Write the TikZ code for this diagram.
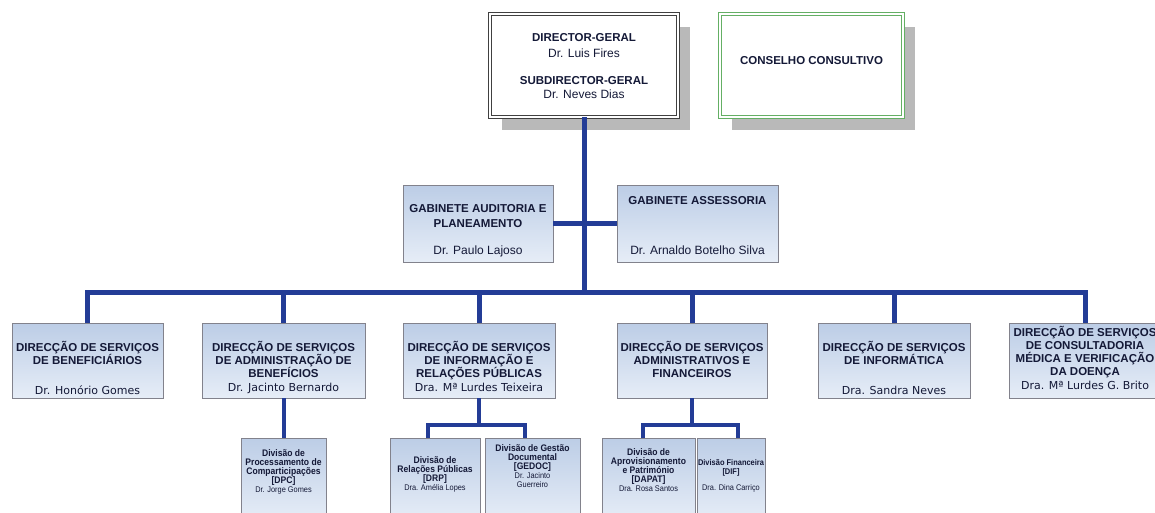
\documentclass[tikz,border=0pt]{standalone}
\usepackage{fontspec}
\setmainfont{Liberation Sans}
\newfontfamily\verdanaish{DejaVu Sans}
\newfontfamily\narrowsans[FakeStretch=0.9]{Liberation Sans}
\usetikzlibrary{shadows}
\definecolor{connblue}{RGB}{35,60,150}
\definecolor{boxtop}{RGB}{188,205,230}
\definecolor{boxbot}{RGB}{230,237,247}
\definecolor{boxline}{RGB}{130,130,140}
\definecolor{txtcol}{RGB}{20,25,55}
\definecolor{shad}{RGB}{185,185,185}
\definecolor{greenline}{RGB}{100,175,100}
\newcommand\TitleF{\fontsize{11.5}{13}\selectfont\bfseries}
\newcommand\NameF{\fontsize{12}{13}\selectfont\mdseries}
\newcommand\VNameF{\verdanaish\fontsize{11}{13}\selectfont\mdseries}
\newcommand\SmallT{\narrowsans\fontsize{9.5}{9}\selectfont\bfseries}
\newcommand\SmallTdif{\narrowsans\fontsize{8.3}{9}\selectfont\bfseries}
\newcommand\SmallN{\narrowsans\fontsize{8.2}{9}\selectfont\mdseries}
\tikzset{
  conn/.style={draw=connblue, line width=5pt, line join=miter},
  conntwo/.style={draw=connblue, line width=4pt, line join=miter},
  bluebox/.style={rectangle, draw=boxline, line width=0.8pt, top color=boxtop, bottom color=boxbot, inner sep=0pt},
  topbox/.style={rectangle, fill=white, double=white, double distance=2pt, line width=0.9pt, inner sep=0pt,
    drop shadow={shadow xshift=12pt, shadow yshift=-13pt, fill=shad, opacity=1}},
  txt/.style={anchor=base, align=center, inner sep=0pt, text=txtcol, font=\TitleF},
  smalltxt/.style={anchor=base, align=center, inner sep=0pt, text=txtcol, font=\SmallT}
}
\begin{document}
\begin{tikzpicture}[x=1pt,y=-1pt]
\useasboundingbox (0,0) rectangle (1155,512);
\fill[white] (0,0) rectangle (1155,512);
\clip (0,0) rectangle (1155,512);

% top boxes
\node[topbox, draw=black!75, minimum width=188pt, minimum height=103pt] (dg) at (584,65.5) {};
\node[topbox, draw=greenline, minimum width=183pt, minimum height=103pt] (cc) at (811.5,65.5) {};

% gabinete boxes
\node[bluebox, minimum width=150pt, minimum height=77pt] (ga) at (478,223.5) {};
\node[bluebox, minimum width=161pt, minimum height=77pt] (gs) at (697.5,223.5) {};

% level 2 boxes
\node[bluebox, minimum width=151pt, minimum height=75pt] (b1) at (87.5,360.5) {};
\node[bluebox, minimum width=163pt, minimum height=75pt] (b2) at (283.5,360.5) {};
\node[bluebox, minimum width=152pt, minimum height=75pt] (b3) at (479,360.5) {};
\node[bluebox, minimum width=150pt, minimum height=75pt] (b4) at (692,360.5) {};
\node[bluebox, minimum width=152pt, minimum height=75pt] (b5) at (894,360.5) {};
\node[bluebox, minimum width=152pt, minimum height=75pt] (b6) at (1085,360.5) {};

% level 3 boxes
\node[bluebox, minimum width=85pt, minimum height=82pt] (dpc) at (283.5,479) {};
\node[bluebox, minimum width=90pt, minimum height=82pt] (drp) at (435,479) {};
\node[bluebox, minimum width=95pt, minimum height=82pt] (gedoc) at (532.5,479) {};
\node[bluebox, minimum width=93pt, minimum height=82pt] (dapat) at (648.5,479) {};
\node[bluebox, minimum width=68pt, minimum height=82pt] (dif) at (731,479) {};

% connectors
\coordinate (bar) at (585,292);
\draw[conn] (dg.south) -- (dg.south |- bar);
\draw[conn] (ga.east) -- (gs.west);
\draw[conn] (b1.north) |- (bar) -| (b6.north);
\foreach \b in {b2,b3,b4,b5} \draw[conn] (\b.north) -- (\b.north |- bar);

\draw[conntwo] (b2.south) -- (dpc.north);
\coordinate (j3) at (479,425);
\coordinate (j3l) at (428,438);
\coordinate (j3r) at (525,438);
\draw[conntwo] (b3.south) -- (j3);
\draw[conntwo] (j3l) |- (j3) -| (j3r);
\coordinate (j4) at (692,425);
\coordinate (j4l) at (643,438);
\coordinate (j4r) at (738,438);
\draw[conntwo] (b4.south) -- (j4);
\draw[conntwo] (j4l) |- (j4) -| (j4r);

% texts (anchor base = last line baseline)
\node[txt] (dgt) at (584,98.5) {DIRECTOR-GERAL\\[3.5pt]\NameF Dr. Luis Fires\\[13.5pt]SUBDIRECTOR-GERAL\\[1.5pt]\NameF Dr. Neves Dias};
\node[txt] (cct) at (811.5,64) {CONSELHO CONSULTIVO};

\node[txt] (gat) at (478,254.5) {GABINETE AUDITORIA E\\[1.5pt]PLANEAMENTO\\[14.5pt]\NameF Dr. Paulo Lajoso};
\node[txt] (gst) at (697.5,254.5) {GABINETE ASSESSORIA\\[37.5pt]\NameF Dr. Arnaldo Botelho Silva};

\node[txt] (t1) at (87.5,394.5) {DIRECÇÃO DE SERVIÇOS\\DE BENEFICIÁRIOS\\[17.5pt]\VNameF Dr. Honório Gomes};
\node[txt] (t2) at (283.5,391.5) {DIRECÇÃO DE SERVIÇOS\\DE ADMINISTRAÇÃO DE\\BENEFÍCIOS\\[1.5pt]\VNameF Dr. Jacinto Bernardo};
\node[txt] (t3) at (479,391.5) {DIRECÇÃO DE SERVIÇOS\\DE INFORMAÇÃO E\\RELAÇÕES PÚBLICAS\\[1.5pt]\VNameF Dra. Mª Lurdes Teixeira};
\node[txt] (t4) at (692,377) {DIRECÇÃO DE SERVIÇOS\\ADMINISTRATIVOS E\\FINANCEIROS};
\node[txt] (t5) at (894,394.5) {DIRECÇÃO DE SERVIÇOS\\DE INFORMÁTICA\\[17.5pt]\VNameF Dra. Sandra Neves};
\node[txt] (t6) at (1085,389.5) {DIRECÇÃO DE SERVIÇOS\\DE CONSULTADORIA\\MÉDICA E VERIFICAÇÃO\\DA DOENÇA\\[1.5pt]\VNameF Dra. Mª Lurdes G. Brito};

\node[smalltxt] (tdpc) at (283.5,492) {Divisão de\\Processamento de\\Comparticipações\\{[DPC]}\\\SmallN Dr. Jorge Gomes};
\node[smalltxt] (tdrp) at (435,490) {Divisão de\\Relações Públicas\\{[DRP]}\\\SmallN Dra. Amélia Lopes};
\node[smalltxt] (tged) at (532.5,487) {Divisão de Gestão\\Documental\\{[GEDOC]}\\\SmallN Dr. Jacinto\\\SmallN Guerreiro};
\node[smalltxt] (tdap) at (648.5,491) {Divisão de\\Aprovisionamento\\e Património\\{[DAPAT]}\\\SmallN Dra. Rosa Santos};
\node[smalltxt] (tdif) at (731,490) {\SmallTdif Divisão Financeira\\\SmallTdif{[DIF]}\\[7pt]\SmallN Dra. Dina Carriço};
\end{tikzpicture}
\end{document}
